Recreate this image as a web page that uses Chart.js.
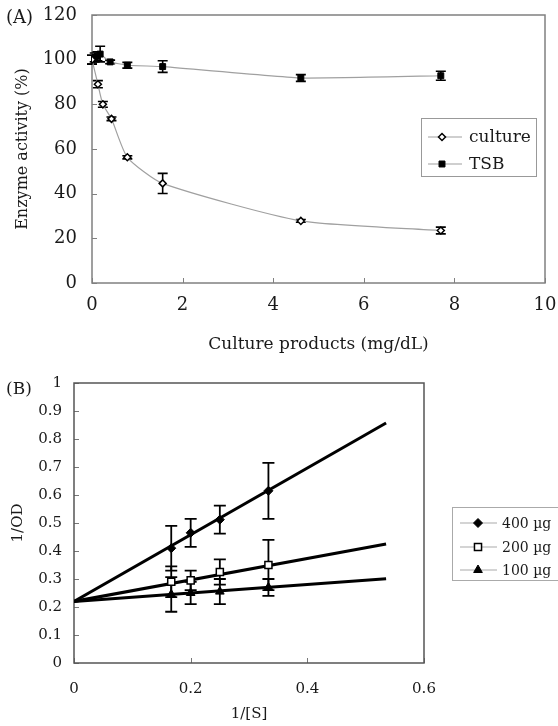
<!DOCTYPE html>
<html><head><meta charset="utf-8">
<script src="https://cdn.jsdelivr.net/npm/chart.js@4.4.1/dist/chart.umd.min.js"></script>
<style>
html,body{margin:0;padding:0;background:#fff;}
#wrap{position:relative;width:558px;height:726px;overflow:hidden;font-family:"DejaVu Serif",serif;color:#1a1a1a;}
#ca{position:absolute;left:0;top:0;}
#cb{position:absolute;left:0;top:370px;}
.lab{position:absolute;line-height:1;white-space:nowrap;}
</style></head><body>
<div id="wrap">
<canvas id="ca" width="558" height="370"></canvas>
<canvas id="cb" width="558" height="356"></canvas>
<div class="lab" style="left:6px;top:8px;font-size:18px">(A)</div>
<div class="lab" style="left:6px;top:380px;font-size:17px">(B)</div>
</div>
<script>
// ---------- Panel A data ----------
const cultureX   = [0, 0.13, 0.24, 0.43, 0.78, 1.56, 4.61, 7.7];
const cultureY   = [100, 89, 80, 73.5, 56.3, 44.6, 27.8, 23.5];
const cultureErr = [2, 1.6, 1.3, 0.8, 0.7, 4.5, 0.6, 1.5];
const tsbX   = [0, 0.06, 0.12, 0.18, 0.4, 0.78, 1.56, 4.61, 7.7];
const tsbY   = [100, 101, 101.5, 102.5, 99, 97.5, 96.9, 91.8, 92.8];
const tsbErr = [2, 2, 2, 3.5, 0.8, 1.3, 2.6, 1.5, 2];
const seriesA = ['culture', 'TSB'];
const xTitleA = 'Culture products (mg/dL)';
const yTitleA = 'Enzyme activity (%)';

// ---------- Panel B data ----------
const invS   = [0.1667, 0.2, 0.25, 0.3333];
const od400  = [0.41, 0.465, 0.512, 0.615];
const err400 = [0.08, 0.05, 0.05, 0.1];
const od200  = [0.29, 0.295, 0.325, 0.35];
const err200 = [0.055, 0.035, 0.045, 0.09];
const od100  = [0.245, 0.25, 0.255, 0.27];
const err100 = [0.062, 0.04, 0.045, 0.03];
const fitX   = [0, 0.535];
const fit400 = [0.22, 0.857];
const fit200 = [0.22, 0.425];
const fit100 = [0.22, 0.301];
const seriesB = ['400 µg', '200 µg', '100 µg'];
const xTitleB = '1/[S]';
const yTitleB = '1/OD';

const FONT = "'DejaVu Serif', serif";
const TXT = '#1a1a1a';
const pts = (xs, ys) => xs.map((x, i) => ({x: x, y: ys[i]}));
const fmt = v => String(+(+v).toFixed(1));

const framePlugin = {
  id: 'frame',
  beforeDatasetsDraw(chart, args, o) {
    const {ctx, chartArea: a, scales} = chart;
    ctx.save();
    ctx.strokeStyle = o.tickColor; ctx.lineWidth = 1;
    scales.x.ticks.forEach(t => {
      const px = Math.round(scales.x.getPixelForValue(t.value)) + 0.5;
      ctx.beginPath(); ctx.moveTo(px, a.bottom); ctx.lineTo(px, a.bottom - o.tick); ctx.stroke();
    });
    scales.y.ticks.forEach(t => {
      const py = Math.round(scales.y.getPixelForValue(t.value)) + 0.5;
      ctx.beginPath(); ctx.moveTo(a.left, py); ctx.lineTo(a.left + o.tick, py); ctx.stroke();
    });
    ctx.strokeStyle = o.color; ctx.lineWidth = o.width;
    ctx.strokeRect(a.left, a.top, a.right - a.left, a.bottom - a.top);
    ctx.strokeStyle = '#000'; ctx.lineWidth = o.errWidth;
    chart.data.datasets.forEach(ds => {
      if (!ds.errors) return;
      ds.data.forEach((p, j) => {
        const x = scales.x.getPixelForValue(p.x);
        const y1 = scales.y.getPixelForValue(p.y + ds.errors[j]);
        const y2 = scales.y.getPixelForValue(p.y - ds.errors[j]);
        const c = o.cap;
        ctx.beginPath();
        ctx.moveTo(x, y1); ctx.lineTo(x, y2);
        ctx.moveTo(x - c, y1); ctx.lineTo(x + c, y1);
        ctx.moveTo(x - c, y2); ctx.lineTo(x + c, y2);
        ctx.stroke();
      });
    });
    ctx.restore();
  },
  afterDraw(chart, args, o) {
    const L = o.legend; if (!L) return;
    const ctx = chart.ctx;
    ctx.save();
    ctx.fillStyle = '#fff';
    ctx.fillRect(L.x, L.y, L.w, L.h);
    ctx.strokeStyle = L.border; ctx.lineWidth = 1;
    ctx.strokeRect(L.x + 0.5, L.y + 0.5, L.w, L.h);
    const items = chart.data.datasets.filter(d => d.inLegend);
    items.forEach((d, i) => {
      const y = L.rows[i];
      ctx.strokeStyle = L.lineColor; ctx.lineWidth = L.lineWidth;
      ctx.beginPath(); ctx.moveTo(L.x1, y); ctx.lineTo(L.x2, y); ctx.stroke();
      ctx.fillStyle = d.pointBackgroundColor; ctx.strokeStyle = d.pointBorderColor;
      ctx.lineWidth = d.pointBorderWidth;
      Chart.helpers.drawPoint(ctx, {pointStyle: d.pointStyle, radius: d.pointRadius, rotation: 0, borderWidth: d.pointBorderWidth}, L.mx, y);
      ctx.fillStyle = TXT; ctx.font = L.font; ctx.textBaseline = 'middle'; ctx.textAlign = 'left';
      ctx.fillText(d.label, L.tx, y + 1);
    });
    ctx.restore();
  }
};

function zeroPad(s) { s.paddingLeft = 0; s.paddingRight = 0; s.paddingTop = 0; s.paddingBottom = 0; }

// ---------- Chart A ----------
new Chart(document.getElementById('ca'), {
  type: 'scatter',
  data: {datasets: [
    {label: seriesA[0], data: pts(cultureX, cultureY), errors: cultureErr, inLegend: true,
     showLine: true, borderColor: '#a0a0a0', borderWidth: 1.2, tension: 0.2,
     pointStyle: 'rectRot', pointRadius: 3.5, pointBackgroundColor: '#fff', pointBorderColor: '#000', pointBorderWidth: 1.5},
    {label: seriesA[1], data: pts(tsbX, tsbY), errors: tsbErr, inLegend: true,
     showLine: true, borderColor: '#a0a0a0', borderWidth: 1.2, tension: 0.1,
     pointStyle: 'rect', pointRadius: 4.2, pointBackgroundColor: '#000', pointBorderColor: '#000', pointBorderWidth: 1}
  ]},
  options: {
    responsive: false, animation: false, events: [],
    layout: {padding: {left: 0, top: 15, right: 13, bottom: 0}},
    plugins: {legend: {display: false}, tooltip: {enabled: false},
      frame: {color: '#808080', width: 1.5, tick: 5, tickColor: '#808080', cap: 5, errWidth: 1.6,
        legend: {x: 421, y: 118, w: 115, h: 58, border: '#999', rows: [137, 164], x1: 428, x2: 462, mx: 442, tx: 469,
                 lineColor: '#a0a0a0', lineWidth: 1.2, font: "17px " + FONT}}},
    scales: {
      x: {type: 'linear', min: 0, max: 10,
        afterFit(s) { s.height = 87; zeroPad(s); },
        grid: {display: false, drawTicks: false}, border: {display: false},
        ticks: {stepSize: 2, padding: 12, color: TXT, font: {family: FONT, size: 18}},
        title: {display: true, text: xTitleA, color: TXT, font: {family: FONT, size: 17}, padding: {top: 15, bottom: 15}}},
      y: {type: 'linear', min: 0, max: 120,
        afterFit(s) { s.width = 92; zeroPad(s); },
        grid: {display: false, drawTicks: false}, border: {display: false},
        ticks: {stepSize: 20, padding: 15, color: TXT, font: {family: FONT, size: 18}},
        title: {display: true, text: yTitleA, color: TXT, font: {family: FONT, size: 16}, padding: {top: 13, bottom: 13}}}
    }
  },
  plugins: [framePlugin]
});

// ---------- Chart B ----------
new Chart(document.getElementById('cb'), {
  type: 'scatter',
  data: {datasets: [
    {label: seriesB[0], data: pts(invS, od400), errors: err400, inLegend: true, showLine: false,
     pointStyle: 'rectRot', pointRadius: 4.5, pointBackgroundColor: '#000', pointBorderColor: '#000', pointBorderWidth: 1},
    {label: seriesB[1], data: pts(invS, od200), errors: err200, inLegend: true, showLine: false,
     pointStyle: 'rect', pointRadius: 5, pointBackgroundColor: '#fff', pointBorderColor: '#000', pointBorderWidth: 1.5},
    {label: seriesB[2], data: pts(invS, od100), errors: err100, inLegend: true, showLine: false,
     pointStyle: 'triangle', pointRadius: 5, pointBackgroundColor: '#000', pointBorderColor: '#000', pointBorderWidth: 1},
    {label: 'fit 400', data: pts(fitX, fit400), showLine: true, borderColor: '#000', borderWidth: 3, pointRadius: 0},
    {label: 'fit 200', data: pts(fitX, fit200), showLine: true, borderColor: '#000', borderWidth: 3, pointRadius: 0},
    {label: 'fit 100', data: pts(fitX, fit100), showLine: true, borderColor: '#000', borderWidth: 3, pointRadius: 0}
  ]},
  options: {
    responsive: false, animation: false, events: [],
    layout: {padding: {left: 0, top: 13, right: 134, bottom: 0}},
    plugins: {legend: {display: false}, tooltip: {enabled: false},
      frame: {color: '#555', width: 1.5, tick: 5, tickColor: '#777', cap: 6, errWidth: 1.8,
        legend: {x: 452, y: 137, w: 115, h: 73, border: '#aaa', rows: [153, 177, 200], x1: 460, x2: 497, mx: 478, tx: 502,
                 lineColor: '#aaa', lineWidth: 1.2, font: "14px " + FONT}}},
    scales: {
      x: {type: 'linear', min: 0, max: 0.6,
        afterFit(s) { s.height = 63; zeroPad(s); },
        grid: {display: false, drawTicks: false}, border: {display: false},
        ticks: {stepSize: 0.2, padding: 17, color: TXT, font: {family: FONT, size: 15}, callback: fmt},
        title: {display: true, text: xTitleB, color: TXT, font: {family: FONT, size: 15}, padding: {top: 3, bottom: 3}}},
      y: {type: 'linear', min: 0, max: 1,
        afterFit(s) { s.width = 74; zeroPad(s); },
        grid: {display: false, drawTicks: false}, border: {display: false},
        ticks: {stepSize: 0.1, padding: 12, color: TXT, font: {family: FONT, size: 15}, callback: fmt},
        title: {display: true, text: yTitleB, color: TXT, font: {family: FONT, size: 15}, padding: {top: 9, bottom: 9}}}
    }
  },
  plugins: [framePlugin]
});
</script>
</body></html>
